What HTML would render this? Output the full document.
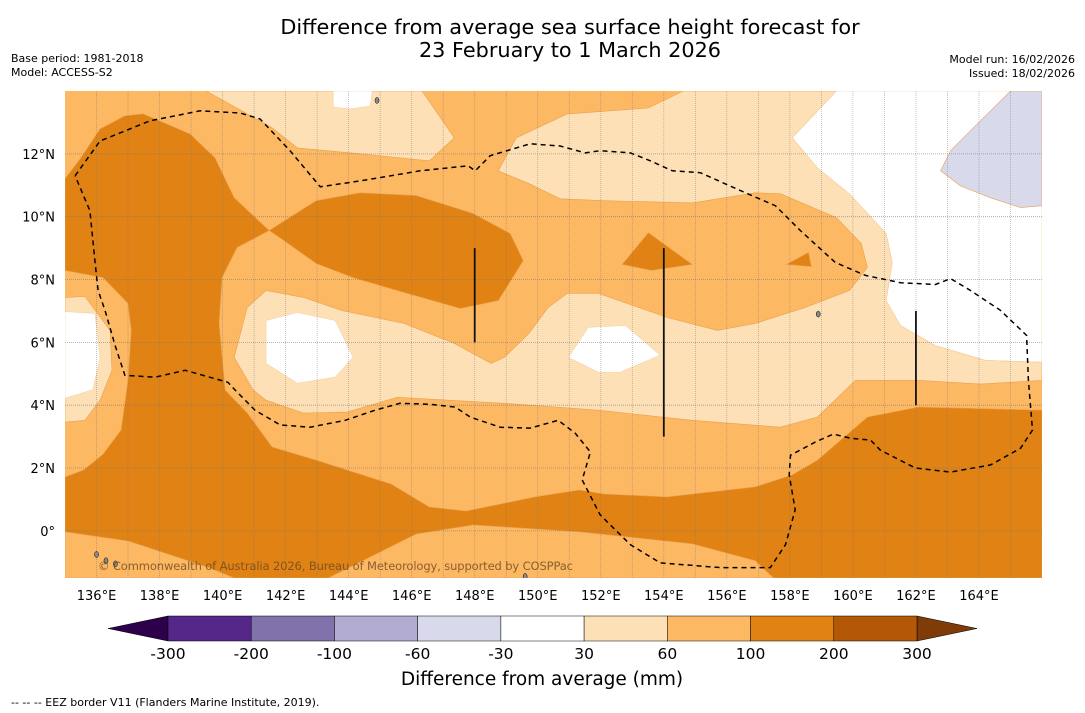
<!DOCTYPE html>
<html><head><meta charset="utf-8">
<style>
body{margin:0;background:#fff;}
svg{display:block;font-family:"DejaVu Sans","Liberation Sans",sans-serif;}
</style></head>
<body>
<svg id="chart" width="1085" height="713" viewBox="0 0 1085 713">
<text x="570" y="34" text-anchor="middle" font-size="20.8">Difference from average sea surface height forecast for</text>
<text x="570" y="57" text-anchor="middle" font-size="20.8">23 February to 1 March 2026</text>
<text x="11" y="62" font-size="11">Base period: 1981-2018</text>
<text x="11" y="76" font-size="11">Model: ACCESS-S2</text>
<text x="1075" y="63" font-size="11" text-anchor="end">Model run: 16/02/2026</text>
<text x="1075" y="77" font-size="11" text-anchor="end">Issued: 18/02/2026</text>
<defs><clipPath id="mapclip"><rect x="65" y="91" width="977" height="487"/></clipPath></defs>
<g id="map" clip-path="url(#mapclip)"></g>
<g id="axes"></g>
<g id="cbar"></g>
<text x="542" y="685" text-anchor="middle" font-size="18.5">Difference from average (mm)</text>
<text x="11" y="706" font-size="11">--  --  -- EEZ border V11 (Flanders Marine Institute, 2019).</text>
</svg>
<script>
const lonMin=135, lonMax=166, latMin=-1.5, latMax=14;
const xTicks=[136,138,140,142,144,146,148,150,152,154,156,158,160,162,164];
const yTicks=[0,2,4,6,8,10,12];
const cbLevels=[-300,-200,-100,-60,-30,30,60,100,200,300];
const cbColors=["#542788","#8073ac","#b2abd2","#d8daeb","#ffffff","#fee0b6","#fdb863","#e08214","#b35806"];
const cbUnder="#2d004b", cbOver="#7f3b08";
const bgColor="#fdb863";
const darkBand=[[135,11.21],[135.48,11.84],[136.11,12.79],[136.9,13.21],[137.48,13.27],[138.97,12.63],[139.76,11.87],[140.37,10.6],[141.48,9.56],[140.46,9.02],[139.98,8.06],[139.89,6.6],[140.08,4.48],[140.78,3.75],[141.57,2.67],[142.97,2.25],[145.35,1.49],[146.56,0.76],[147.73,0.63],[149.92,1.08],[151.32,1.3],[152.11,1.17],[154.11,1.08],[156.9,1.4],[158.08,1.78],[158.87,2.25],[160.46,3.62],[162.08,3.94],[166,3.84],[166,-1.5],[135,-1.5],[135,1.71],[135.6,1.94],[136.21,2.44],[136.78,3.21],[137,4.79],[137.1,6.38],[137,7.24],[136.21,8.06],[135,8.29]];
const darkBlob=[[141.48,9.56],[142.97,10.51],[144.37,10.76],[146.14,10.67],[147.95,10.1],[149.13,9.46],[149.54,8.6],[148.75,7.33],[147.54,7.08],[145.54,7.65],[144.14,8.06],[142.97,8.51],[141.95,9.24]];
const darkTri1=[[153.51,9.49],[154.9,8.48],[153.6,8.29],[152.68,8.48]];
const darkTri2=[[158.59,8.86],[158.68,8.41],[157.89,8.48]];
const lightBL=[[135,-0.03],[137,-0.32],[139.57,-1.17],[140.37,-1.5],[135,-1.5]];
const lightBottom=[[143.35,-1.5],[146.14,-0.1],[147.95,0.19],[151.32,-0.03],[154.9,-0.41],[156.9,-0.95],[157.48,-1.5]];
const paleTop=[[139.48,14],[146.33,14],[147.35,12.51],[146.56,11.78],[144.37,12],[142.37,12.19],[141.57,12.83]];
const paleMain=[[154.62,14],[159.48,14],[158.08,12.51],[158.87,11.56],[159.89,10.73],[161.06,9.46],[161.25,8.54],[161.06,7.33],[161.51,6.54],[162.62,5.9],[164.21,5.43],[166,5.37],[166,4.79],[164.05,4.67],[162.14,4.79],[160.08,4.79],[158.87,3.62],[157.7,3.3],[154.9,3.52],[151.92,3.84],[148.94,4.06],[145.54,4.25],[143.95,3.78],[142.56,3.75],[141.38,4.16],[140.97,4.48],[140.37,5.52],[140.78,7.11],[141.38,7.65],[142.56,7.43],[143.76,7.02],[145.76,6.6],[147.35,5.97],[148.52,5.33],[148.94,5.52],[149.73,6.29],[150.33,7.11],[150.94,7.56],[151.92,7.56],[154.11,6.79],[155.7,6.38],[156.9,6.6],[158.49,7.11],[159.89,7.65],[160.46,8.38],[160.27,9.14],[159.48,9.97],[157.7,10.73],[156.9,10.76],[154.9,10.44],[152.11,10.51],[150.71,10.57],[149.73,11.05],[148.75,11.46],[149.32,12.51],[150.94,13.27],[153.51,13.46]];
const paleLeft=[[135,7.43],[135.63,7.46],[136.43,6.38],[136.49,5.11],[136.11,4.16],[135.63,3.52],[135,3.46]];
const whiteTopBox=[[143.51,14],[144.75,14],[144.68,13.52],[144.05,13.43],[143.51,13.49]];
const whiteRight=[[159.48,14],[166,14],[166,5.37],[164.21,5.43],[162.62,5.9],[161.51,6.54],[161.06,7.33],[161.25,8.54],[161.06,9.46],[159.89,10.73],[158.87,11.56],[158.08,12.51]];
const whiteWest=[[141.38,6.7],[142.37,6.95],[143.57,6.7],[144.14,5.52],[143.57,4.89],[142.37,4.7],[141.38,5.33]];
const whiteCentre=[[150.97,5.52],[151.6,6.48],[152.78,6.54],[153.89,5.59],[152.62,5.05],[151.92,5.05]];
const whiteLeft=[[135,6.98],[135.95,6.92],[136.11,5.52],[135.89,4.5],[135,4.22]];
const lavender=[[165,14],[166,14],[166,10.35],[165.32,10.29],[164.37,10.6],[163.41,10.98],[162.78,11.46],[163.1,12.1],[164.05,13.05]];
const eez=[[135.32,11.3],[136.11,12.41],[137.7,13.05],[139.29,13.37],[140.56,13.3],[141.19,13.11],[142.14,12.1],[143.1,10.95],[144.37,11.14],[146.27,11.46],[147.79,11.62],[148.02,11.46],[148.49,11.94],[149.76,12.32],[150.71,12.25],[151.51,12.03],[151.98,12.1],[152.94,12.03],[153.57,11.78],[154.27,11.46],[155.16,11.4],[156.43,10.83],[157.54,10.35],[158.33,9.56],[159.44,8.54],[160.4,8.13],[161.51,7.9],[162.62,7.84],[163.1,8.03],[163.73,7.65],[164.68,7.02],[165.51,6.22],[165.57,4.79],[165.7,3.21],[165.32,2.63],[164.37,2.1],[163.1,1.87],[161.98,2.0],[160.87,2.57],[160.56,2.89],[159.92,2.95],[159.38,3.08],[158.81,2.83],[158.02,2.41],[157.98,1.78],[158.17,0.67],[157.86,-0.44],[157.38,-1.17],[155.79,-1.17],[153.89,-1.02],[152.94,-0.44],[151.98,0.51],[151.41,1.62],[151.67,2.51],[151.19,3.11],[150.65,3.52],[149.76,3.27],[148.81,3.3],[147.86,3.62],[147.38,3.94],[146.59,4.03],[145.63,4.06],[144.84,3.84],[143.89,3.52],[142.78,3.3],[141.83,3.37],[141.03,3.84],[140.4,4.48],[140.17,4.73],[138.81,5.11],[137.86,4.89],[136.9,4.95],[136.59,5.9],[136.27,7.02],[136.05,7.65],[135.95,8.6],[135.79,10.19],[135.32,11.3]];
const cables=[[148,9,6],[154,9,3],[162,7,4]];
const islands=[[144.9,13.7],[158.9,6.9],[136.0,-0.75],[136.3,-0.95],[136.6,-1.05],[149.6,-1.45]];

const X0=65,X1=1042,Y0=91,Y1=578;
function sx(lon){return X0+(lon-lonMin)/(lonMax-lonMin)*(X1-X0);}
function sy(lat){return Y1-(lat-latMin)/(latMax-latMin)*(Y1-Y0);}
const NS="http://www.w3.org/2000/svg";
const map=document.getElementById('map'), axes=document.getElementById('axes'), cbar=document.getElementById('cbar');
function mk(tag,attrs,parent){const e=document.createElementNS(NS,tag);for(const k in attrs)e.setAttribute(k,attrs[k]);parent.appendChild(e);return e;}
function pts(a){return a.map(p=>sx(p[0]).toFixed(1)+','+sy(p[1]).toFixed(1)).join(' ');}

const bg=mk('rect',{x:X0,y:Y0,width:X1-X0,height:Y1-Y0,fill:bgColor},map);


const layers=[
 [darkBand,cbColors[7],'contour-100-200-band'],
 [darkBlob,cbColors[7],'contour-100-200-blob'],
 [darkTri1,cbColors[7],'contour-100-200-patch-154e'],
 [darkTri2,cbColors[7],'contour-100-200-patch-158e'],
 [lightBL,cbColors[6],'contour-60-100-southwest'],
 [lightBottom,cbColors[6],'contour-60-100-south'],
 [paleTop,cbColors[5],'contour-30-60-north'],
 [paleMain,cbColors[5],'contour-30-60-main'],
 [paleLeft,cbColors[5],'contour-30-60-west'],
 [whiteTopBox,cbColors[4],'contour-neutral-north'],
 [whiteRight,cbColors[4],'contour-neutral-east'],
 [whiteWest,cbColors[4],'contour-neutral-west'],
 [whiteCentre,cbColors[4],'contour-neutral-centre'],
 [whiteLeft,cbColors[4],'contour-neutral-edge'],
 [lavender,cbColors[3],'contour-minus60-minus30-northeast']
];
layers.forEach(l=>{
 const p=mk('polygon',{points:pts(l[0]),fill:l[1],stroke:l[1]==='#ffffff'?'#f5d3a8':'#eaa04c','stroke-width':0.6},map);
 
 
});
for(let lon=136;lon<=165;lon++){
 const g=mk('line',{x1:sx(lon),x2:sx(lon),y1:Y0,y2:Y1,stroke:'#777','stroke-width':0.7,'stroke-dasharray':'1,1',opacity:0.6},map);
 
 
}
yTicks.forEach(lat=>{
 const g=mk('line',{x1:X0,x2:X1,y1:sy(lat),y2:sy(lat),stroke:'#777','stroke-width':0.8,'stroke-dasharray':'1,1',opacity:0.7},map);
 
 
});
islands.forEach(i=>{
 const c=mk('ellipse',{cx:sx(i[0]),cy:sy(i[1]),rx:2,ry:3,fill:'#888',stroke:'#000','stroke-width':0.5},map);
 
 
});
cables.forEach(c=>{
 const l=mk('line',{x1:sx(c[0]),x2:sx(c[0]),y1:sy(c[1]),y2:sy(c[2]),stroke:'#111','stroke-width':1.8},map);
 
 
});
const ez=mk('polyline',{points:pts(eez),fill:'none',stroke:'#000','stroke-width':1.5,'stroke-dasharray':'5,4'},map);


const cr=mk('text',{x:98,y:570,'font-size':11.5,fill:'#6b4a1f','fill-opacity':0.8,textLength:475},map);
cr.textContent='© Commonwealth of Australia 2026, Bureau of Meteorology, supported by COSPPac';



xTicks.forEach(lon=>{
 const t=mk('text',{x:sx(lon),y:600,'font-size':13,'text-anchor':'middle'},axes);
 t.textContent=lon+'°E';
 
 
});
yTicks.forEach(lat=>{
 const t=mk('text',{x:55,y:sy(lat)+5,'font-size':13,'text-anchor':'end'},axes);
 t.textContent=lat===0?'0°':lat+'°N';
 
 
});

const CB0=168,CB1=917,CBY=616,CBH=25;
const w=(CB1-CB0)/cbColors.length;
const under=mk('polygon',{points:`${CB0},${CBY} ${CB0},${CBY+CBH} 108,${CBY+CBH/2}`,fill:cbUnder,stroke:'#000','stroke-width':0.5},cbar);


const over=mk('polygon',{points:`${CB1},${CBY} ${CB1},${CBY+CBH} 977,${CBY+CBH/2}`,fill:cbOver,stroke:'#000','stroke-width':0.5},cbar);


cbColors.forEach((c,i)=>{
 const r=mk('rect',{x:CB0+i*w,y:CBY,width:w,height:CBH,fill:c,stroke:'#000','stroke-width':0.5},cbar);
 
 
});
cbLevels.forEach((v,i)=>{
 const t=mk('text',{x:CB0+i*w,y:659,'font-size':15.5,'text-anchor':'middle'},cbar);
 t.textContent=v;
 
 
});
</script>
</body></html>
